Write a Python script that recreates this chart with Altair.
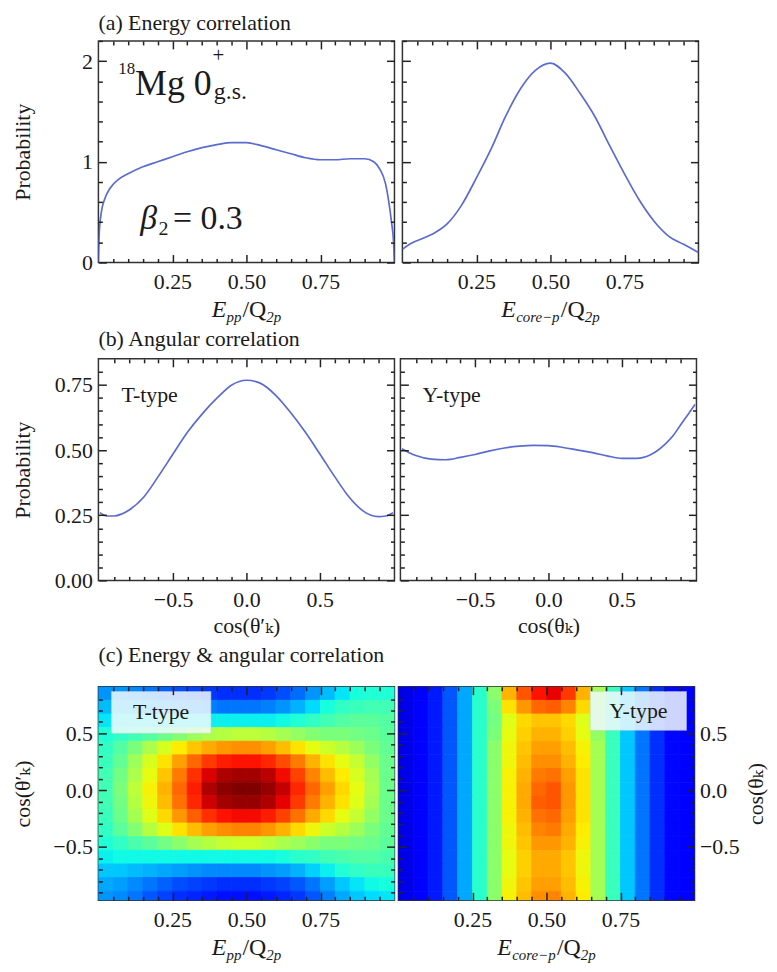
import altair as alt
import pandas as pd

FONT = "Liberation Serif, Times New Roman, DejaVu Serif, serif"
INK = "#1a1a1a"
LINE_COLOR = "#5b6bd0"

# ---------------- (a) energy correlation ----------------
epp_x = [0.0, 0.003, 0.01, 0.02, 0.04, 0.07, 0.1, 0.15, 0.2, 0.25, 0.3, 0.35, 0.4, 0.45, 0.5,
         0.55, 0.6, 0.65, 0.7, 0.75, 0.8, 0.85, 0.9, 0.93, 0.95, 0.97, 0.98, 0.99, 0.997, 1.0]
epp_y = [0.0, 0.3, 0.5, 0.62, 0.74, 0.83, 0.88, 0.95, 1.0, 1.05, 1.1, 1.14, 1.17, 1.19, 1.19,
         1.16, 1.12, 1.08, 1.04, 1.02, 1.02, 1.03, 1.03, 1.0, 0.93, 0.78, 0.62, 0.4, 0.2, 0.0]

ecore_x = [0.0, 0.03, 0.07, 0.1, 0.15, 0.2, 0.25, 0.3, 0.35, 0.4, 0.45, 0.5, 0.55, 0.6, 0.65,
           0.7, 0.75, 0.8, 0.85, 0.9, 0.95, 1.0]
ecore_y = [0.13, 0.19, 0.24, 0.28, 0.38, 0.57, 0.84, 1.13, 1.46, 1.73, 1.91, 1.98, 1.88, 1.68,
           1.45, 1.16, 0.88, 0.62, 0.41, 0.26, 0.18, 0.10]

# ---------------- (b) angular correlation ----------------
t_cos = [-1.0, -0.95, -0.9, -0.85, -0.8, -0.7, -0.6, -0.5, -0.4, -0.3, -0.2, -0.1, 0.0,
         0.1, 0.2, 0.3, 0.4, 0.5, 0.6, 0.7, 0.8, 0.85, 0.9, 0.95, 1.0]
t_prob = [0.26, 0.247, 0.247, 0.255, 0.27, 0.32, 0.40, 0.486, 0.57, 0.64, 0.70, 0.75, 0.768,
          0.755, 0.71, 0.645, 0.57, 0.486, 0.40, 0.32, 0.265, 0.25, 0.245, 0.247, 0.26]

y_cos = [-1.0, -0.95, -0.9, -0.8, -0.7, -0.6, -0.5, -0.4, -0.3, -0.2, -0.1, 0.0, 0.1, 0.2,
         0.3, 0.4, 0.5, 0.6, 0.7, 0.8, 0.85, 0.9, 0.95, 1.0]
y_prob = [0.505, 0.49, 0.478, 0.465, 0.463, 0.472, 0.483, 0.497, 0.508, 0.515, 0.518, 0.517,
          0.51, 0.5, 0.49, 0.478, 0.468, 0.468, 0.483, 0.525, 0.555, 0.595, 0.635, 0.675]

# ---------------- (c) energy & angular correlation (colour level 0..1) ----------------
e_centers = [0.025, 0.075, 0.125, 0.175, 0.225, 0.275, 0.325, 0.375, 0.425, 0.475,
             0.525, 0.575, 0.625, 0.675, 0.725, 0.775, 0.825, 0.875, 0.925, 0.975]
cos_centers = [0.85, 0.73, 0.61, 0.49, 0.37, 0.25, 0.13, 0.01,
               -0.11, -0.23, -0.35, -0.47, -0.59, -0.71, -0.83, -0.95]

t_grid = [
    [0.27, 0.27, 0.26, 0.24, 0.22, 0.2, 0.19, 0.18, 0.17, 0.17, 0.17, 0.18, 0.2, 0.23, 0.27, 0.31, 0.35, 0.38, 0.39, 0.39],
    [0.31, 0.31, 0.3, 0.29, 0.28, 0.27, 0.26, 0.25, 0.24, 0.24, 0.24, 0.25, 0.27, 0.3, 0.34, 0.38, 0.41, 0.42, 0.43, 0.43],
    [0.35, 0.36, 0.36, 0.36, 0.36, 0.36, 0.36, 0.36, 0.36, 0.36, 0.36, 0.36, 0.37, 0.39, 0.41, 0.43, 0.45, 0.46, 0.46, 0.45],
    [0.39, 0.41, 0.43, 0.45, 0.48, 0.51, 0.54, 0.56, 0.57, 0.58, 0.58, 0.57, 0.55, 0.53, 0.51, 0.5, 0.5, 0.49, 0.48, 0.46],
    [0.41, 0.45, 0.5, 0.56, 0.61, 0.66, 0.7, 0.73, 0.75, 0.76, 0.76, 0.74, 0.71, 0.67, 0.63, 0.6, 0.57, 0.54, 0.5, 0.47],
    [0.42, 0.47, 0.54, 0.61, 0.67, 0.74, 0.8, 0.85, 0.88, 0.89, 0.89, 0.87, 0.83, 0.78, 0.72, 0.67, 0.63, 0.59, 0.53, 0.48],
    [0.43, 0.49, 0.56, 0.63, 0.7, 0.78, 0.86, 0.92, 0.96, 0.97, 0.97, 0.95, 0.9, 0.84, 0.77, 0.71, 0.66, 0.61, 0.55, 0.48],
    [0.43, 0.5, 0.58, 0.65, 0.72, 0.8, 0.88, 0.96, 0.99, 1.0, 1.0, 0.98, 0.94, 0.87, 0.8, 0.74, 0.68, 0.63, 0.56, 0.48],
    [0.43, 0.49, 0.57, 0.64, 0.71, 0.79, 0.87, 0.93, 0.97, 0.98, 0.98, 0.96, 0.91, 0.85, 0.78, 0.72, 0.67, 0.62, 0.55, 0.48],
    [0.42, 0.48, 0.55, 0.62, 0.68, 0.75, 0.81, 0.86, 0.89, 0.9, 0.9, 0.88, 0.84, 0.79, 0.73, 0.68, 0.63, 0.59, 0.53, 0.48],
    [0.41, 0.46, 0.51, 0.57, 0.62, 0.67, 0.71, 0.74, 0.76, 0.77, 0.77, 0.75, 0.72, 0.68, 0.64, 0.6, 0.57, 0.54, 0.5, 0.47],
    [0.39, 0.41, 0.44, 0.46, 0.49, 0.52, 0.55, 0.57, 0.59, 0.6, 0.6, 0.58, 0.56, 0.54, 0.52, 0.5, 0.5, 0.49, 0.48, 0.46],
    [0.36, 0.37, 0.37, 0.37, 0.37, 0.37, 0.37, 0.37, 0.37, 0.37, 0.37, 0.37, 0.38, 0.4, 0.41, 0.43, 0.44, 0.45, 0.45, 0.44],
    [0.32, 0.32, 0.31, 0.3, 0.29, 0.28, 0.27, 0.26, 0.26, 0.26, 0.26, 0.27, 0.28, 0.3, 0.33, 0.36, 0.39, 0.41, 0.42, 0.42],
    [0.29, 0.28, 0.26, 0.24, 0.22, 0.2, 0.19, 0.18, 0.17, 0.17, 0.17, 0.18, 0.19, 0.21, 0.24, 0.28, 0.32, 0.35, 0.37, 0.38],
    [0.27, 0.26, 0.24, 0.21, 0.19, 0.17, 0.16, 0.15, 0.14, 0.14, 0.14, 0.15, 0.16, 0.18, 0.21, 0.25, 0.29, 0.32, 0.34, 0.35],
]

y_grid = [
    [0.09, 0.11, 0.15, 0.21, 0.29, 0.4, 0.52, 0.72, 0.82, 0.89, 0.91, 0.85, 0.72, 0.55, 0.42, 0.32, 0.24, 0.17, 0.13, 0.11],
    [0.09, 0.11, 0.15, 0.21, 0.29, 0.4, 0.5, 0.67, 0.75, 0.8, 0.81, 0.77, 0.68, 0.53, 0.42, 0.32, 0.24, 0.17, 0.13, 0.11],
    [0.09, 0.11, 0.15, 0.21, 0.29, 0.4, 0.49, 0.62, 0.68, 0.7, 0.7, 0.68, 0.62, 0.52, 0.42, 0.32, 0.24, 0.17, 0.13, 0.11],
    [0.09, 0.11, 0.15, 0.21, 0.29, 0.4, 0.5, 0.63, 0.69, 0.72, 0.72, 0.69, 0.63, 0.53, 0.42, 0.32, 0.24, 0.17, 0.13, 0.11],
    [0.09, 0.11, 0.15, 0.21, 0.29, 0.4, 0.52, 0.64, 0.7, 0.74, 0.74, 0.71, 0.65, 0.55, 0.42, 0.32, 0.24, 0.17, 0.13, 0.11],
    [0.09, 0.11, 0.15, 0.21, 0.29, 0.4, 0.52, 0.64, 0.71, 0.76, 0.76, 0.72, 0.66, 0.55, 0.42, 0.32, 0.24, 0.17, 0.13, 0.11],
    [0.09, 0.11, 0.15, 0.21, 0.29, 0.4, 0.52, 0.65, 0.72, 0.78, 0.79, 0.74, 0.67, 0.55, 0.42, 0.32, 0.24, 0.17, 0.13, 0.11],
    [0.09, 0.11, 0.15, 0.21, 0.29, 0.4, 0.52, 0.65, 0.73, 0.8, 0.82, 0.75, 0.67, 0.55, 0.42, 0.32, 0.24, 0.17, 0.13, 0.11],
    [0.09, 0.11, 0.15, 0.21, 0.29, 0.4, 0.52, 0.65, 0.73, 0.81, 0.82, 0.75, 0.67, 0.55, 0.42, 0.32, 0.24, 0.17, 0.13, 0.11],
    [0.09, 0.11, 0.15, 0.21, 0.29, 0.4, 0.52, 0.65, 0.72, 0.79, 0.8, 0.74, 0.67, 0.55, 0.42, 0.32, 0.24, 0.17, 0.13, 0.11],
    [0.09, 0.11, 0.15, 0.21, 0.29, 0.4, 0.52, 0.64, 0.71, 0.77, 0.78, 0.73, 0.66, 0.55, 0.42, 0.32, 0.24, 0.17, 0.13, 0.11],
    [0.09, 0.11, 0.15, 0.21, 0.29, 0.4, 0.52, 0.64, 0.7, 0.75, 0.75, 0.72, 0.65, 0.55, 0.42, 0.32, 0.24, 0.17, 0.13, 0.11],
    [0.09, 0.11, 0.15, 0.21, 0.29, 0.4, 0.52, 0.63, 0.69, 0.73, 0.73, 0.7, 0.64, 0.55, 0.42, 0.32, 0.24, 0.17, 0.13, 0.11],
    [0.09, 0.11, 0.15, 0.21, 0.29, 0.4, 0.52, 0.63, 0.69, 0.73, 0.73, 0.7, 0.64, 0.55, 0.42, 0.32, 0.24, 0.17, 0.13, 0.11],
    [0.09, 0.11, 0.15, 0.21, 0.29, 0.4, 0.52, 0.64, 0.7, 0.74, 0.74, 0.71, 0.65, 0.55, 0.42, 0.32, 0.24, 0.17, 0.13, 0.11],
    [0.09, 0.11, 0.15, 0.21, 0.29, 0.4, 0.52, 0.65, 0.71, 0.76, 0.77, 0.72, 0.66, 0.55, 0.42, 0.32, 0.24, 0.17, 0.13, 0.11],
]

# tick positions: major (labelled) and minor
e_major = [0.25, 0.5, 0.75]
e_minor = [0.05, 0.1, 0.15, 0.2, 0.3, 0.35, 0.4, 0.45, 0.55, 0.6, 0.65, 0.7, 0.8, 0.85, 0.9, 0.95]
pa_major = [0, 1, 2]
pa_minor = [0.2, 0.4, 0.6, 0.8, 1.2, 1.4, 1.6, 1.8, 2.2]
cb_major = [-0.5, 0.0, 0.5]
cb_minor = [-0.9, -0.8, -0.7, -0.6, -0.4, -0.3, -0.2, -0.1, 0.1, 0.2, 0.3, 0.4, 0.6, 0.7, 0.8, 0.9]
pb_major = [0.0, 0.25, 0.5, 0.75]
pb_minor = [0.05, 0.1, 0.15, 0.2, 0.3, 0.35, 0.4, 0.45, 0.55, 0.6, 0.65, 0.7, 0.8]
cc_major = [-0.5, 0.0, 0.5]
cc_minor = [-0.9, -0.8, -0.7, -0.6, -0.4, -0.3, -0.2, -0.1, 0.1, 0.2, 0.3, 0.4, 0.6, 0.7, 0.8]

W = 298
HA, HB, HC = 223, 223, 215
E_DOM = [0.0, 1.0]
PA_DOM = [0.0, 2.2]
CB_DOM = [-1.01, 1.01]
PB_DOM = [0.0, 0.85]
CC_DOM = [-0.97, 0.91]

JET_DOMAIN = [0, 0.11, 0.125, 0.34, 0.375, 0.5, 0.625, 0.66, 0.75, 0.89, 0.91, 1.0]
JET_RANGE = ["#000080", "#0000ff", "#0000ff", "#00dbff", "#14ffe2", "#7bff7b",
             "#e2ff14", "#ffec00", "#ff9700", "#ff1300", "#e80000", "#800000"]

MAJ, MIN = 8, 4


def sc(dom):
    return alt.Scale(domain=dom, nice=False, zero=False)


def axis(orient, values, size, labels=False, fmt=".2f", pad=6, title=None, **extra):
    # axis line pulled inside the frame by `size`, so ticks point inward from the frame
    kw = dict(orient=orient, values=values, grid=False, domain=False, offset=-size,
              tickSize=size, tickColor="#222222", tickWidth=1.5,
              zindex=3, labels=labels, title=title,
              titleFont=FONT, titleFontSize=22, titleFontWeight="normal", titleColor=INK)
    if labels:
        kw.update(format=fmt, labelFont=FONT, labelFontSize=22, labelColor=INK,
                  labelPadding=pad, labelOverlap=False, labelFlush=False)
    kw.update(extra)
    return alt.Axis(**kw)


def ann(text, x, y, xdom, ydom, size=22, align="left", baseline="alphabetic", style="normal"):
    df = pd.DataFrame({"x": [x], "y": [y], "t": [text]})
    return alt.Chart(df).mark_text(font=FONT, fontSize=size, align=align, baseline=baseline,
                                   fontStyle=style, color=INK).encode(
        x=alt.X("x:Q", scale=sc(xdom), axis=None),
        y=alt.Y("y:Q", scale=sc(ydom), axis=None),
        text="t:N")


def ptext(text, px, py, size, style="normal"):
    df = pd.DataFrame({"t": [text]})
    return alt.Chart(df).mark_text(font=FONT, fontSize=size, align="left", baseline="alphabetic",
                                   fontStyle=style, color=INK).encode(
        x=alt.value(px), y=alt.value(py), text="t:N")


def e_title(sub, sub_w, H):
    total = 15 + sub_w + 1 + 24 + 15
    x0 = W / 2 - total / 2
    base = H + 55
    return [ptext("E", x0, base, 24, "italic"),
            ptext(sub, x0 + 15, base + 5, 15, "italic"),
            ptext("/Q", x0 + 16 + sub_w, base, 24),
            ptext("2p", x0 + 16 + sub_w + 24, base + 5, 15, "italic")]


def frame_layers(df, xf, yf, xdom, ydom, top, right, bmin, lmin, tmin, rmin):
    base = alt.Chart(df)
    out = []
    for xa, ya in ((top, right), (bmin, lmin), (tmin, rmin)):
        out.append(base.mark_point(opacity=0).encode(
            x=alt.X(f"{xf}:Q", scale=sc(xdom), axis=xa),
            y=alt.Y(f"{yf}:Q", scale=sc(ydom), axis=ya)))
    return out


def line_panel(xs, ys, xdom, ydom, H, xmaj, xmin, ymaj, ymin, bottom, left, right, extras):
    df = pd.DataFrame({"x": xs, "y": ys})
    l1 = alt.Chart(df).mark_line(color=LINE_COLOR, strokeWidth=1.7, clip=True,
                                 interpolate="monotone").encode(
        x=alt.X("x:Q", scale=sc(xdom), axis=bottom), y=alt.Y("y:Q", scale=sc(ydom), axis=left))
    fr = frame_layers(df, "x", "y", xdom, ydom,
                      axis("top", xmaj, MAJ), right,
                      axis("bottom", xmin, MIN), axis("left", ymin, MIN),
                      axis("top", xmin, MIN), axis("right", ymin, MIN))
    return alt.layer(l1, *fr, *extras).resolve_axis(x="independent", y="independent").properties(
        width=W, height=H)


def heat_panel(grid, bottom, left, right, extras):
    rows = []
    for i, c in enumerate(cos_centers):
        for j, e in enumerate(e_centers):
            rows.append({"x": e - 0.025, "x2": e + 0.025, "y": c - 0.06, "y2": c + 0.06,
                         "xc": e, "yc": c, "v": grid[i][j]})
    df = pd.DataFrame(rows)
    jet = alt.Scale(domain=JET_DOMAIN, range=JET_RANGE, interpolate="rgb")
    r = alt.Chart(df).mark_rect(clip=True, strokeWidth=0.8).encode(
        x=alt.X("x:Q", scale=sc(E_DOM), axis=bottom), x2="x2:Q",
        y=alt.Y("y:Q", scale=sc(CC_DOM), axis=left), y2="y2:Q",
        color=alt.Color("v:Q", scale=jet, legend=None),
        stroke=alt.Stroke("v:Q", scale=jet, legend=None))
    fr = frame_layers(df, "xc", "yc", E_DOM, CC_DOM,
                      axis("top", e_major, MAJ), right,
                      axis("bottom", e_minor, MIN), axis("left", cc_minor, MIN),
                      axis("top", e_minor, MIN), axis("right", cc_minor, MIN))
    return alt.layer(r, *fr, *extras).resolve_axis(x="independent", y="independent").properties(
        width=W, height=HC)


def box(x1, x2, y1, y2, text):
    df = pd.DataFrame({"x": [x1], "x2": [x2], "y": [y1], "y2": [y2]})
    rect = alt.Chart(df).mark_rect(fill="#f2fafd", opacity=0.85, stroke="#c8d8e0", strokeWidth=0.6).encode(
        x=alt.X("x:Q", scale=sc(E_DOM), axis=None), x2="x2:Q",
        y=alt.Y("y:Q", scale=sc(CC_DOM), axis=None), y2="y2:Q")
    label = ann(text, (x1 + x2) / 2, (y1 + y2) / 2, E_DOM, CC_DOM, size=22, align="center",
                baseline="middle")
    return [rect, label]


def row_title(text, offset):
    return alt.TitleParams(text, anchor="start", frame="group", offset=offset, font=FONT,
                           fontSize=22, fontWeight="normal", color=INK)


ytitle_left = dict(titleX=-84, titleAngle=270, titleAlign="center", titleBaseline="middle")
xb_title = dict(titleX=W / 2, titleY=53, titleAlign="center", titleBaseline="middle", titleAngle=0)

# ---------------- row (a) ----------------
a_left = line_panel(
    epp_x, epp_y, E_DOM, PA_DOM, HA, e_major, e_minor, pa_major, pa_minor,
    axis("bottom", e_major, MAJ, labels=True, fmt=".2f", pad=9),
    axis("left", pa_major, MAJ, labels=True, fmt=".0f", pad=6, title="Probability",
         titleY=HA / 2, **ytitle_left),
    axis("right", pa_major, MAJ),
    [ann("18", 0.067, 1.87, E_DOM, PA_DOM, size=17),
     ann("Mg 0", 0.124, 1.667, E_DOM, PA_DOM, size=36),
     ann("+", 0.385, 1.99, E_DOM, PA_DOM, size=21),
     ann("g.s.", 0.39, 1.62, E_DOM, PA_DOM, size=24),
     ann("β", 0.141, 0.335, E_DOM, PA_DOM, size=34, style="italic"),
     ann("2", 0.203, 0.27, E_DOM, PA_DOM, size=20),
     ann("= 0.3", 0.252, 0.335, E_DOM, PA_DOM, size=34)] + e_title("pp", 15, HA),
).properties(title=row_title("(a) Energy correlation", 5))

a_right = line_panel(
    ecore_x, ecore_y, E_DOM, PA_DOM, HA, e_major, e_minor, pa_major, pa_minor,
    axis("bottom", e_major, MAJ, labels=True, fmt=".2f", pad=9),
    axis("left", pa_major, MAJ),
    axis("right", pa_major, MAJ),
    e_title("core−p", 44, HA),
)

# ---------------- row (b) ----------------
b_left = line_panel(
    t_cos, t_prob, CB_DOM, PB_DOM, HB, cb_major, cb_minor, pb_major, pb_minor,
    axis("bottom", cb_major, MAJ, labels=True, fmt=".1f", pad=9, title="cos(θ′ₖ)", **xb_title),
    axis("left", pb_major, MAJ, labels=True, fmt=".2f", pad=6, title="Probability",
         titleY=HB / 2, **ytitle_left),
    axis("right", pb_major, MAJ),
    [ann("T-type", -0.852, 0.686, CB_DOM, PB_DOM, size=22)],
).properties(title=row_title("(b) Angular correlation", 7))

b_right = line_panel(
    y_cos, y_prob, CB_DOM, PB_DOM, HB, cb_major, cb_minor, pb_major, pb_minor,
    axis("bottom", cb_major, MAJ, labels=True, fmt=".1f", pad=9, title="cos(θₖ)", **xb_title),
    axis("left", pb_major, MAJ),
    axis("right", pb_major, MAJ),
    [ann("Y-type", -0.859, 0.686, CB_DOM, PB_DOM, size=22)],
)

# ---------------- row (c) ----------------
c_left = heat_panel(
    t_grid,
    axis("bottom", e_major, MAJ, labels=True, fmt=".2f", pad=9),
    axis("left", cc_major, MAJ, labels=True, fmt=".1f", pad=6, title="cos(θ′ₖ)",
         titleY=HC / 2, **ytitle_left),
    axis("right", cc_major, MAJ),
    box(0.044, 0.38, 0.5, 0.868, "T-type") + e_title("pp", 15, HC),
).properties(title=row_title("(c) Energy & angular correlation", 19))

c_right = heat_panel(
    y_grid,
    axis("bottom", e_major, MAJ, labels=True, fmt=".2f", pad=9),
    axis("left", cc_major, MAJ),
    axis("right", cc_major, MAJ, labels=True, fmt=".1f", pad=5, title="cos(θₖ)", titleX=69,
         titleY=HC / 2, titleAngle=270, titleAlign="center", titleBaseline="middle"),
    box(0.648, 0.973, 0.526, 0.868, "Y-type") + e_title("core−p", 44, HC),
)

row_a = alt.hconcat(a_left, a_right, spacing=0)
row_b = alt.hconcat(b_left, b_right, spacing=0)
row_c = alt.hconcat(c_left, c_right, spacing=0)

top_rows = alt.vconcat(row_a, row_b, spacing=1)
chart = alt.vconcat(top_rows, row_c, spacing=6).properties(
    padding={"left": 3, "top": 0, "right": 2, "bottom": 2}
).configure(font=FONT).configure_view(stroke="#333333", strokeWidth=1.5)

chart.save("out.html", embed_options={"renderer": "svg", "actions": False})
